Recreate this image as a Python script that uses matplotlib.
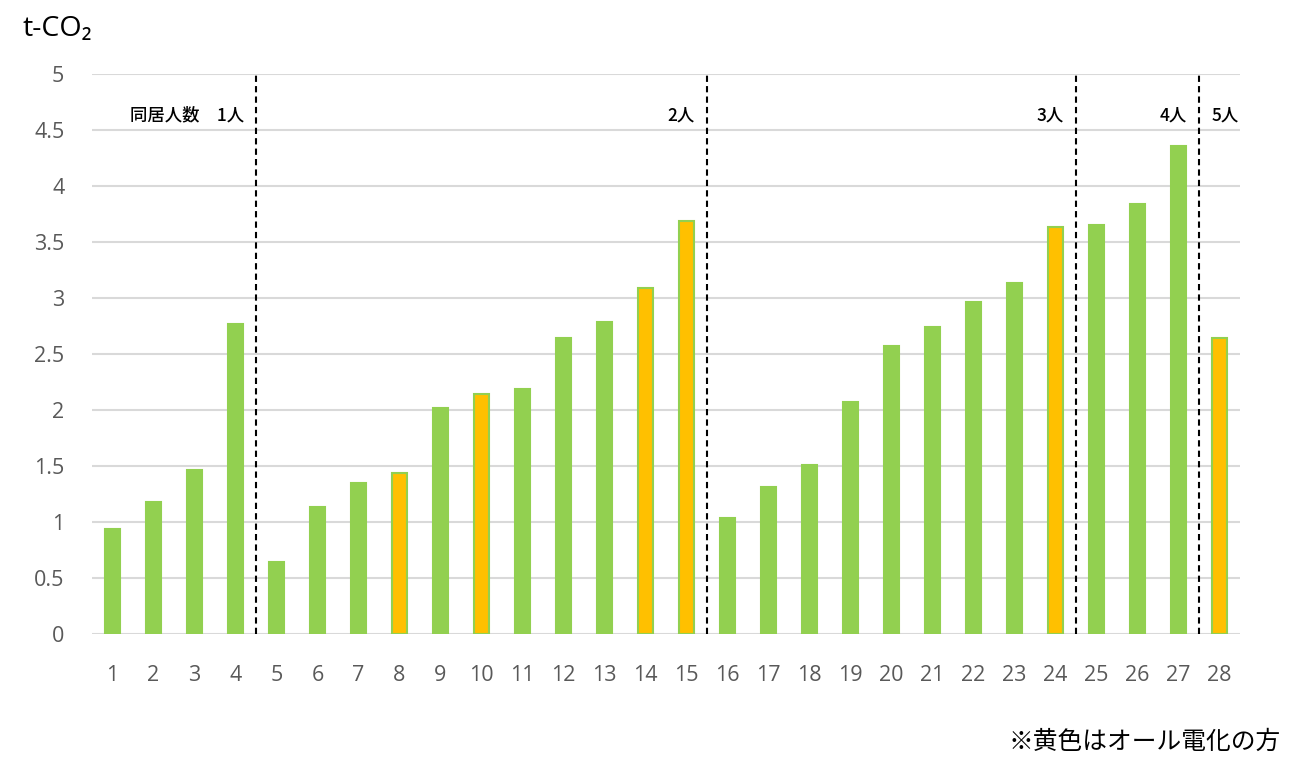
import matplotlib.pyplot as plt
import numpy as np

plt.rcParams["font.family"] = ["Open Sans", "Noto Sans CJK JP", "DejaVu Sans"]

households = list(range(1, 29))
emissions = [0.94, 1.18, 1.46, 2.77, 0.64, 1.13, 1.35, 1.44, 2.02, 2.14,
             2.19, 2.64, 2.79, 3.09, 3.69, 1.04, 1.31, 1.51, 2.07, 2.57,
             2.74, 2.96, 3.13, 3.63, 3.65, 3.84, 4.36, 2.64]
all_electric = [8, 10, 14, 15, 24, 28]
group_bounds = [4.5, 15.5, 24.5, 27.5]
group_labels = ["同居人数　1人", "2人", "3人", "4人"]

GREEN = "#92D050"
YELLOW = "#FFC000"
JP = ["Noto Sans CJK JP", "DejaVu Sans"]

fig = plt.figure(figsize=(13, 7.71), dpi=100)
ax = fig.add_axes([0.0708, 0.1777, 0.883, 0.7263])

x = np.array(households)
faces = [YELLOW if h in all_electric else GREEN for h in households]
ax.bar(x, emissions, width=0.37, color=faces, edgecolor=GREEN, linewidth=1.5, zorder=3)

ax.set_xlim(0.5, 28.5)
ax.set_ylim(0, 5)
ax.set_yticks(np.arange(0, 5.01, 0.5))
ax.set_yticklabels(["0", "0.5", "1", "1.5", "2", "2.5", "3", "3.5", "4", "4.5", "5"])
ax.set_xticks(x)
ax.grid(axis="y", color="#D9D9D9", linewidth=1.5, zorder=0)
for s in ax.spines.values():
    s.set_visible(False)
ax.tick_params(length=0, labelsize=15.5, labelcolor="#595959")
ax.tick_params(axis="y", pad=20)
ax.tick_params(axis="x", pad=22)

for b in group_bounds:
    ax.axvline(b, color="black", linestyle=(0, (3, 2)), linewidth=1.5, zorder=4)
for b, lab in zip(group_bounds, group_labels):
    ax.text(b - 0.3, 4.63, lab, ha="right", va="center", fontsize=12.5,
            fontweight="medium", family=JP)
ax.text(27.8, 4.63, "5人", ha="left", va="center", fontsize=12.5,
        fontweight="medium", family=JP)

fig.text(0.017, 0.962, "t-CO₂", ha="left", va="center", fontsize=20.5,
         family=["Open Sans", "DejaVu Sans"])
fig.text(0.985, 0.038, "※黄色はオール電化の方", ha="right", va="center",
         fontsize=17.8, family=JP)

fig.savefig("out.png", dpi=100)
